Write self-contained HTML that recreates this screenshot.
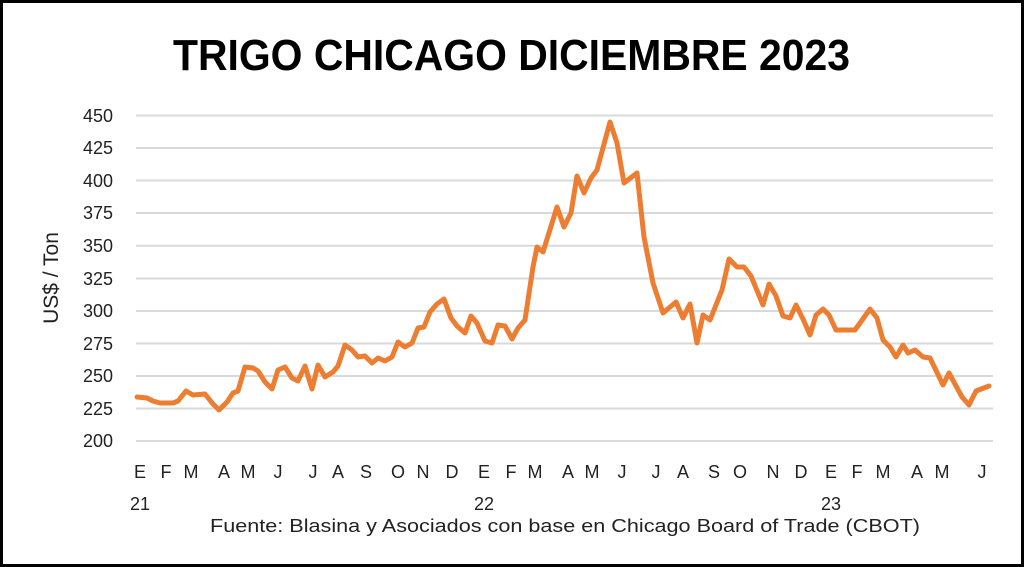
<!DOCTYPE html>
<html><head><meta charset="utf-8"><style>
html,body{margin:0;padding:0;background:#fff;}
svg{display:block;}
text{font-family:"Liberation Sans",sans-serif;}
</style></head><body>
<svg width="1024" height="567" viewBox="0 0 1024 567" xmlns="http://www.w3.org/2000/svg">
<rect x="1.5" y="1.5" width="1021" height="564" fill="#fff" stroke="#000" stroke-width="3"/>
<text x="173" y="70" font-size="44" font-weight="bold" textLength="677" lengthAdjust="spacingAndGlyphs">TRIGO CHICAGO DICIEMBRE 2023</text>
<g stroke="#d9d9d9" stroke-width="2">
<line x1="136" x2="993" y1="115.5" y2="115.5"/>
<line x1="136" x2="993" y1="148" y2="148"/>
<line x1="136" x2="993" y1="180.5" y2="180.5"/>
<line x1="136" x2="993" y1="213" y2="213"/>
<line x1="136" x2="993" y1="245.7" y2="245.7"/>
<line x1="136" x2="993" y1="278.5" y2="278.5"/>
<line x1="136" x2="993" y1="311" y2="311"/>
<line x1="136" x2="993" y1="343.5" y2="343.5"/>
<line x1="136" x2="993" y1="376" y2="376"/>
<line x1="136" x2="993" y1="408.5" y2="408.5"/>
<line x1="136" x2="993" y1="441" y2="441"/>
</g>
<g font-size="18" fill="#222" text-anchor="end">
<text x="113" y="122">450</text><text x="113" y="154">425</text><text x="113" y="187">400</text>
<text x="113" y="219">375</text><text x="113" y="252">350</text><text x="113" y="285">325</text>
<text x="113" y="317">300</text><text x="113" y="350">275</text><text x="113" y="382">250</text>
<text x="113" y="415">225</text><text x="113" y="447">200</text>
</g>
<text transform="translate(58,278) rotate(-90)" font-size="21" fill="#222" text-anchor="middle">US$ / Ton</text>
<g font-size="18" fill="#222" text-anchor="middle">
<text x="140" y="478">E</text><text x="166" y="478">F</text><text x="191" y="478">M</text><text x="224" y="478">A</text><text x="248" y="478">M</text><text x="278" y="478">J</text>
<text x="313" y="478">J</text><text x="338" y="478">A</text><text x="366" y="478">S</text><text x="398" y="478">O</text><text x="423" y="478">N</text><text x="452" y="478">D</text>
<text x="484" y="478">E</text><text x="511" y="478">F</text><text x="535" y="478">M</text><text x="568" y="478">A</text><text x="592" y="478">M</text><text x="622" y="478">J</text>
<text x="656" y="478">J</text><text x="683" y="478">A</text><text x="714" y="478">S</text><text x="740" y="478">O</text><text x="773" y="478">N</text><text x="801" y="478">D</text>
<text x="831" y="478">E</text><text x="857" y="478">F</text><text x="883" y="478">M</text><text x="917" y="478">A</text><text x="942" y="478">M</text><text x="982" y="478">J</text>
<text x="140" y="510">21</text><text x="484" y="510">22</text><text x="831" y="510">23</text>
</g>
<text x="565" y="532" font-size="18" fill="#222" text-anchor="middle" textLength="710" lengthAdjust="spacingAndGlyphs">Fuente: Blasina y Asociados con base en Chicago Board of Trade (CBOT)</text>
<polyline fill="none" stroke="#ED7D31" stroke-width="5" stroke-linejoin="round" stroke-linecap="round" points="137,397 147,398 153,401 160,403 173,403 178,401 186,391 193,395 205,394 213,404 219,410 227,402 233,393 238,391 245,367 253,368 258,371 265,382 272,389 278,370 285,367 292,378 298,381 305,366 312,389 318,365 325,377 333,372 338,366 345,345 352,350 358,357 365,356 372,363 378,358 385,361 392,357 398,342 405,347 412,343 418,328 424,327 430,312 437,304 444,299 451,318 457,326 465,333 471,316 477,323 485,341 492,343 498,325 505,326 512,339 518,328 525,320 533,267 537,247 543,252 557,207 564,227 571,213 577,176 584,193 591,178 597,170 610,122 617,143 624,183 637,173 644,237 653,283 663,313 676,302 683,318 690,304 697,343 703,315 710,320 722,290 729,259 737,267 744,267 751,276 763,305 769,284 776,296 783,316 790,318 796,305 803,319 810,335 816,315 823,309 829,315 836,330 855,330 870,309 877,318 883,340 890,347 896,357 903,345 908,353 915,350 923,357 930,358 943,385 949,373 962,397 969,405 976,391 989,386"/>
</svg>
</body></html>
